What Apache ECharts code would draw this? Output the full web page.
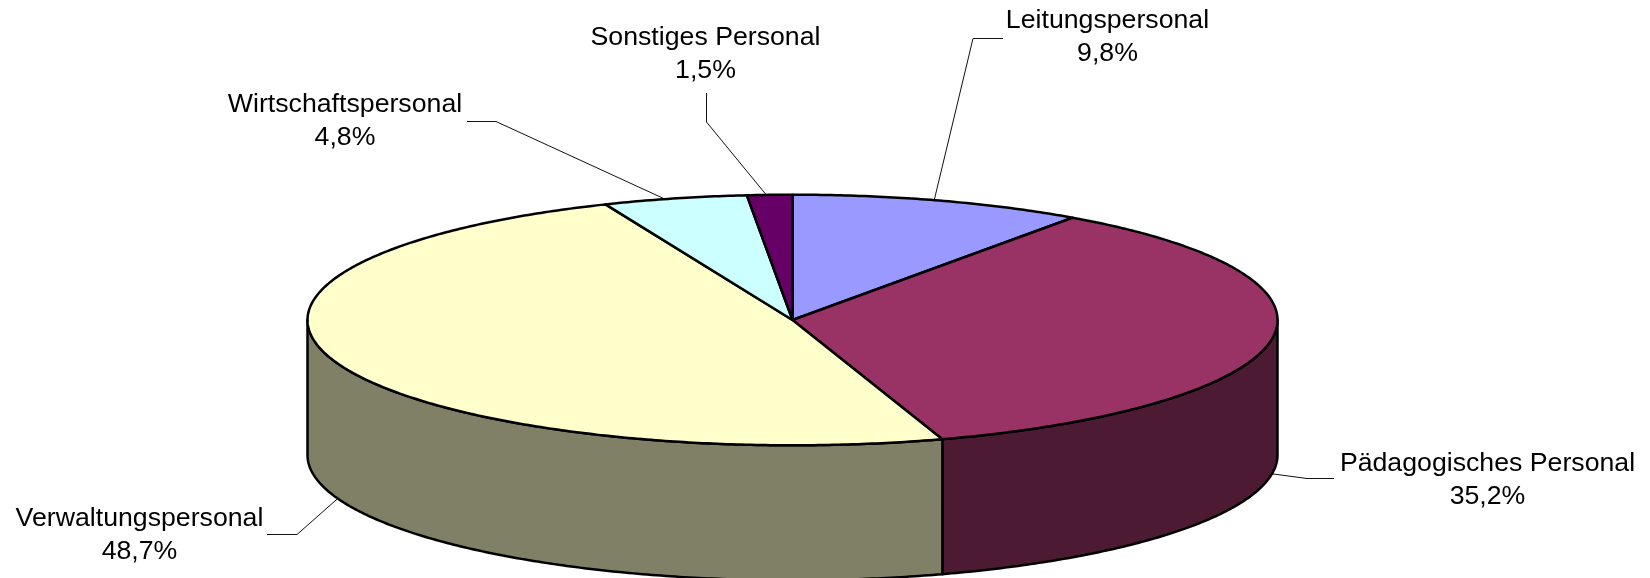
<!DOCTYPE html>
<html>
<head>
<meta charset="utf-8">
<style>html,body{margin:0;padding:0;background:#fff}#c{width:1650px;height:578px}</style>
<script src="https://cdn.jsdelivr.net/npm/echarts@6/dist/echarts.min.js"></script>
</head>
<body>
<div id="c"></div>
<script>
// Data
const categories = ['Leitungspersonal', 'Pädagogisches Personal', 'Verwaltungspersonal', 'Wirtschaftspersonal', 'Sonstiges Personal'];
const values = [9.8, 35.2, 48.7, 4.8, 1.5];
const topColors = ['#9999FF', '#993366', '#FFFFCC', '#CCFFFF', '#660066'];
const sideColors = ['#4D4D80', '#4D1A33', '#808066', '#668080', '#330033'];

// Layout of the pie
const pie = { cx: 792.5, cy: 320, rx: 485, ry: 125.3, depth: 135 };
// Label layout: text centre, fixed part of each leader, and leader anchor shift (degrees)
const labelCentre = [[1107.5, 37.3], [1487.5, 480.3], [139.5, 535.3], [345, 121.5], [705.5, 54]];
const leaderElbows = [
  [[1003, 38.5], [973, 38.5]],
  [[1334, 478.5], [1307, 478.5]],
  [[267, 534.5], [297, 534.5]],
  [[467, 121.5], [496, 121.5]],
  [[706.5, 93], [706.5, 122]]
];
const anchorShift = [-0.65, 0, 0, -1.2, -0.4];

const total = values.reduce((a, b) => a + b, 0);
const cum = [];
values.reduce((a, v, i) => { cum[i] = a; return a + v; }, 0);
const toAngle = v => v / total * 2 * Math.PI; // clockwise from 12 o'clock
const pt = (a, dy) => [pie.cx + pie.rx * Math.sin(a), pie.cy - pie.ry * Math.cos(a) + (dy || 0)];
const arc = (a0, a1, dy) => {
  const n = Math.max(2, Math.ceil((a1 - a0) / 0.01));
  const out = [];
  for (let k = 0; k <= n; k++) out.push(pt(a0 + (a1 - a0) * k / n, dy));
  return out;
};

function renderItem(params, api) {
  const i = api.value(0);
  const v = api.value(1);
  const a0 = toAngle(cum[i]);
  const a1 = toAngle(cum[i] + v);
  const mid = (a0 + a1) / 2;
  const children = [];

  // leader line
  const front = Math.cos(mid) < 0;
  const anchor = pt(mid + anchorShift[i] * Math.PI / 180, front ? pie.depth : 0);
  children.push({
    type: 'polyline', z2: 0, silent: true,
    shape: { points: leaderElbows[i].concat([anchor]) },
    style: { stroke: '#111', lineWidth: 1, fill: null }
  });

  // visible wall: portion of the slice on the front half
  const w0 = Math.max(a0, Math.PI / 2);
  const w1 = Math.min(a1, Math.PI * 1.5);
  if (w1 > w0) {
    children.push({
      type: 'polygon', z2: 1,
      shape: { points: arc(w0, w1, 0).concat(arc(w0, w1, pie.depth).reverse()) },
      style: { fill: sideColors[i], stroke: '#000', lineWidth: 2.5, lineJoin: 'round' }
    });
  }

  // top sector
  children.push({
    type: 'polygon', z2: 2,
    shape: { points: [[pie.cx, pie.cy]].concat(arc(a0, a1, 0)) },
    style: { fill: topColors[i], stroke: '#000', lineWidth: 2.5, lineJoin: 'round' }
  });

  // label
  children.push({
    type: 'text', z2: 3,
    style: {
      x: labelCentre[i][0], y: labelCentre[i][1],
      text: categories[i] + '\n' + v.toFixed(1).replace('.', ',') + '%',
      font: '26.7px "Liberation Sans", Arial, sans-serif',
      lineHeight: 33, fill: '#000', align: 'center', verticalAlign: 'middle'
    }
  });
  return { type: 'group', children: children };
}

const chart = echarts.init(document.getElementById('c'), null, { renderer: 'canvas' });
chart.setOption({
  animation: false,
  backgroundColor: '#fff',
  series: [{
    type: 'custom',
    coordinateSystem: 'none',
    clip: false,
    renderItem: renderItem,
    encode: { value: 1 },
    data: values.map((v, i) => [i, v])
  }]
});
</script>
</body>
</html>
